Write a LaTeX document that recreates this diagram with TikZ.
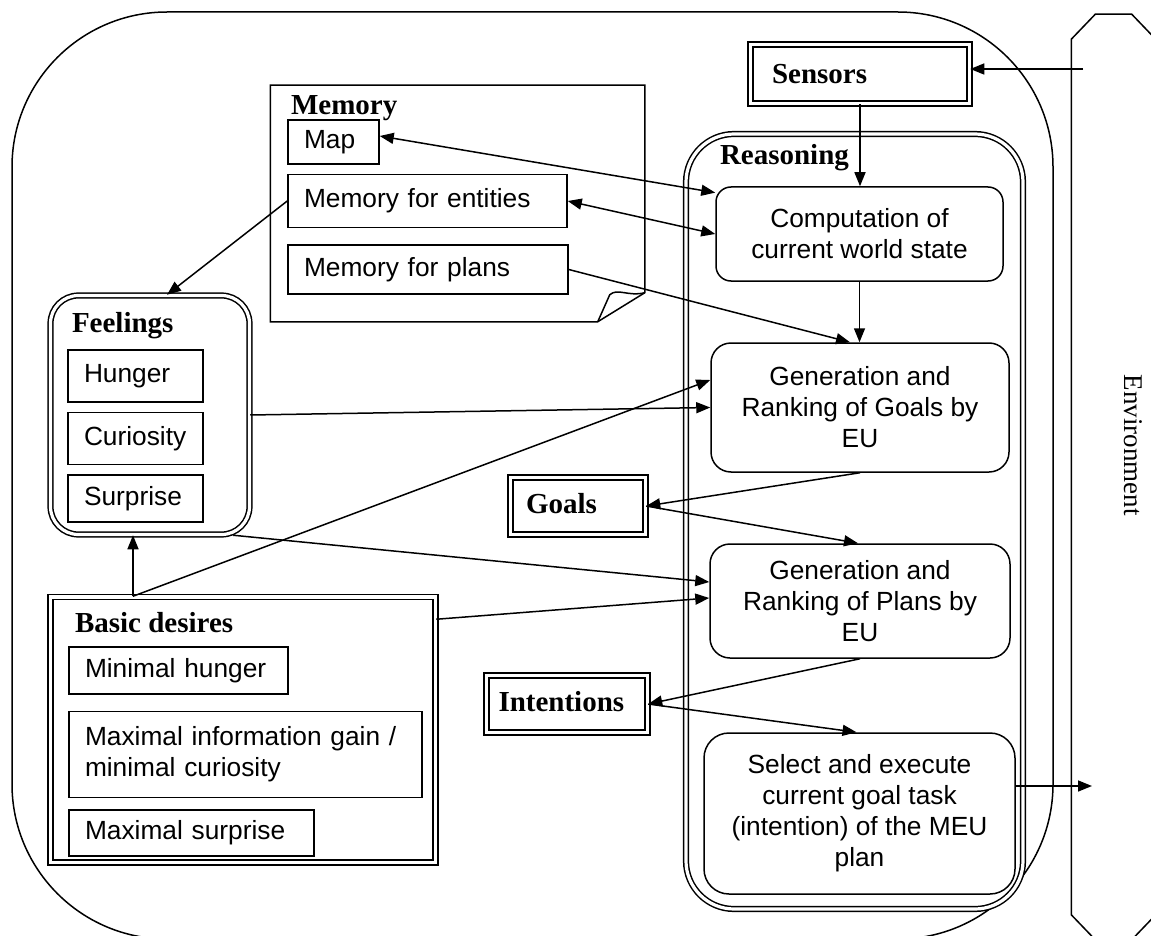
\documentclass[tikz,border=0pt]{standalone}
\usepackage{fontspec}
\setmainfont{Liberation Serif}
\setsansfont{Liberation Sans}
\usetikzlibrary{arrows.meta,positioning,calc}
\tikzstyle{item} = [rectangle, draw, inner sep=0pt, inner xsep=16pt, align=left,
    font=\sffamily\fontsize{26.3}{31}\selectfont]
\tikzstyle{proc} = [rectangle, draw, rounded corners=20pt, inner sep=0pt, align=center,
    font=\sffamily\fontsize{26.3}{31}\selectfont]
\tikzstyle{dblbox} = [rectangle, draw, double, double distance=3.2pt, line width=1.5pt, inner sep=0pt]
\tikzstyle{title} = [anchor=base west, inner sep=0pt, font=\bfseries\fontsize{29}{29}\selectfont]
\tikzstyle{arrow} = [-{Triangle[length=14pt,width=11pt]}]
\tikzstyle{dblarrow} = [{Triangle[length=14pt,width=11pt]}-{Triangle[length=14pt,width=11pt]}]

\begin{document}
\begin{tikzpicture}[x=1pt, y=-1pt, line width=1.5pt]
\fill[white] (0,0) rectangle (1151,936);
\useasboundingbox (0,0) rectangle (1151,936);
\clip (0,0) rectangle (1151,936);
\node[draw, rounded corners=155pt, minimum width=1041pt, minimum height=927pt] (agent) at (532.5,475.5) {};
\node[minimum width=83pt, minimum height=924pt, inner sep=0pt] (env) at (1113.5,477) {};
\draw ([yshift=-25pt]env.north west) -- ([xshift=24pt]env.north west) -- ([xshift=-24pt]env.north east)
    -- ([yshift=-25pt]env.north east) -- ([yshift=25pt]env.south east) -- ([xshift=-24pt]env.south east)
    -- ([xshift=24pt]env.south west) -- ([yshift=25pt]env.south west) -- cycle;
\node[rotate=-90, font=\fontsize{27}{27}\selectfont] (envlabel) at (1133,445) {Environment};
\coordinate (envin) at (1083,69);
\coordinate (envout) at (1092,786);

\node[dblbox, minimum width=219pt, minimum height=59pt] (sensors) at (860,74) {};
\node[title] (senstitle) at ([xshift=21.5pt,yshift=-39.5pt]sensors.north west) {Sensors};
\node[dblbox, rounded corners=48pt, minimum width=337pt, minimum height=775pt] (reasoning) at (854.5,521.5) {};
\node[title] (reastitle) at ([xshift=34pt,yshift=-31pt]reasoning.north west) {Reasoning};
\node[proc, rounded corners=15pt, minimum width=287pt, minimum height=94pt] (comp) at (859.5,234) {Computation of\\current world state};
\node[proc, minimum width=298pt, minimum height=129pt] (gengoals) at (860,407.5) {Generation and\\Ranking of Goals by\\EU};
\node[proc, minimum width=300pt, minimum height=114pt] (genplans) at (860,601) {Generation and\\Ranking of Plans by\\EU};
\node[proc, rounded corners=25pt, minimum width=311pt, minimum height=161pt] (select) at (859.5,813.5) {Select and execute\\current goal task\\(intention) of the MEU\\plan};

\node[dblbox, minimum width=135pt, minimum height=57pt] (goals) at (578,506) {};
\node[title] (goalstitle) at ([xshift=15.5pt,yshift=-37pt]goals.north west) {Goals};
\node[dblbox, minimum width=161pt, minimum height=57pt] (intentions) at (567,704) {};
\node[title] (inttitle) at ([xshift=12pt,yshift=-37pt]intentions.north west) {Intentions};

\node[minimum width=373pt, minimum height=235pt, inner sep=0pt] (memory) at (457.5,203.5) {};
\draw (memory.north west) -- (memory.north east) -- ([yshift=29pt]memory.south east)
    -- ([xshift=-47pt]memory.south east) -- (memory.south west) -- cycle;
\draw ([xshift=-47pt]memory.south east) -- ([xshift=-35pt,yshift=27pt]memory.south east)
    .. controls ([xshift=-27pt,yshift=34pt]memory.south east) and ([xshift=-17pt,yshift=25pt]memory.south east)
    .. ([yshift=29pt]memory.south east);
\node[title] (memtitle) at ([xshift=20pt,yshift=-29pt]memory.north west) {Memory};
\node[item, text width=59pt, minimum height=44pt] (map) at (333.5,142) {Map};
\node[item, text width=247pt, minimum height=53pt, below right=9pt and 0pt of map.south west] (ent) {Memory for entities};
\node[item, text width=248pt, minimum height=49pt, below right=16pt and 0pt of ent.south west] (plansmem) {Memory for plans};

\node[dblbox, rounded corners=28pt, minimum width=199pt, minimum height=239pt] (feel) at (150,415) {};
\node[title] (feeltitle) at ([xshift=21.5pt,yshift=-37.5pt]feel.north west) {Feelings};
\node[item, text width=103pt, minimum height=52pt] (hunger) at (135.5,376) {Hunger};
\node[item, text width=103pt, minimum height=52pt, below=9pt of hunger] (curio) {Curiosity};
\node[item, text width=103pt, minimum height=47pt, below=9pt of curio] (surpr) {Surprise};

\node[dblbox, minimum width=385pt, minimum height=265.5pt] (basic) at (243,729.75) {};
\node[title] (basictitle) at ([xshift=24.5pt,yshift=-36pt]basic.north west) {Basic desires};
\node[item, text width=187pt, minimum height=47pt] (minhunger) at (178.5,670.5) {Minimal hunger};
\node[item, text width=321pt, minimum height=86pt, below right=16pt and 0pt of minhunger.south west] (maxinfo) {Maximal information gain /\\minimal curiosity};
\node[item, text width=213pt, minimum height=46pt, below right=11pt and 0pt of maxinfo.south west] (maxsurp) {Maximal surprise};
\coordinate (bd) at ([xshift=-110pt]basic.north);

\draw[arrow] (envin) -- (sensors.east |- envin);
\draw[arrow] (sensors.south) -- (sensors.south |- comp.north);
\draw[dblarrow] ([yshift=6pt]map.east) -- (comp.164);
\draw[dblarrow] (ent.east) -- (comp.west);
\draw[arrow] (plansmem.east) -- ([xshift=-10pt]gengoals.north);
\draw[arrow] (comp.south) -- (comp.south |- gengoals.north);
\draw[arrow] (ent.west) -- ([xshift=17pt]feel.north);
\draw[arrow] (feel.east) -- (gengoals.west);
\draw[arrow] (bd) -- (bd |- feel.south);
\draw[arrow] (bd) -- ([yshift=27.5pt]gengoals.west);
\draw[arrow] ([xshift=-17pt]feel.south east) -- ([yshift=19pt]genplans.west);
\draw[arrow] ([yshift=-23pt]basic.north east) -- ([yshift=3pt]genplans.west);
\draw[arrow] (gengoals.south) -- (goals.east);
\draw[arrow] (goals.east) -- ([xshift=-2pt]genplans.north);
\draw[arrow] (genplans.south) -- (intentions.east);
\draw[arrow] (intentions.east) -- ([xshift=-3pt]select.north);
\draw[arrow] ([yshift=27.5pt]select.east) -- (envout);
\end{tikzpicture}
\end{document}
